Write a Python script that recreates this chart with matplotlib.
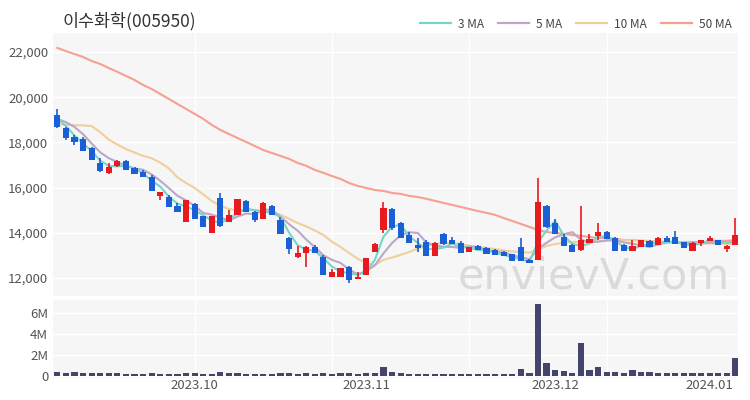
import matplotlib
matplotlib.use("Agg")
import matplotlib.pyplot as plt
import numpy as np
import pandas as pd
from matplotlib.lines import Line2D
from matplotlib.ticker import FuncFormatter

plt.rcParams['font.family'] = ['Noto Sans CJK KR', 'DejaVu Sans']

title = "이수화학(005950)"

dates = (
    ["2023-09-%02d" % d for d in [6, 7, 8, 11, 12, 13, 14, 15, 18, 19, 20, 21, 22, 25, 26, 27]]
    + ["2023-10-%02d" % d for d in [4, 5, 6, 10, 11, 12, 13, 16, 17, 18, 19, 20, 23, 24, 25, 26, 27, 30, 31]]
    + ["2023-11-%02d" % d for d in [1, 2, 3, 6, 7, 8, 9, 10, 13, 14, 15, 16, 17, 20, 21, 22, 23, 24, 27, 28, 29, 30]]
    + ["2023-12-%02d" % d for d in [1, 4, 5, 6, 7, 8, 11, 12, 13, 14, 15, 18, 19, 20, 21, 22, 26, 27, 28]]
    + ["2024-01-%02d" % d for d in [2, 3, 4, 5]]
)

opens = [19210, 18640, 18240, 18150, 17750, 17090, 16650, 16960, 17180, 16870,
         16690, 16470, 15630, 15580, 15190, 14480, 15270, 14740, 13990, 15540,
         14480, 14790, 15410, 14920, 14610, 15190, 14570, 13770, 12930, 13110,
         13370, 12930, 12040, 12040, 12490, 11960, 12130, 13150, 14120, 15050,
         14430, 13900, 13460, 13590, 12970, 13950, 13680, 13550, 13150, 13420,
         13330, 13240, 13150, 13060, 13370, 12800, 12800, 15190, 14430, 13810,
         13460, 13240, 13550, 13860, 14040, 13770, 13460, 13190, 13370, 13640,
         13460, 13770, 13810, 13590, 13190, 13550, 13640, 13680, 13280, 13460]
highs = [19480, 18700, 18330, 18240, 17800, 17310, 17090, 17200, 17200, 16900,
         16780, 16560, 15800, 15660, 15310, 15450, 15300, 14760, 14740, 15760,
         15000, 15500, 15430, 14950, 15360, 15230, 14700, 13800, 13420, 13400,
         13460, 13020, 12400, 12460, 12510, 12260, 12900, 13550, 15360, 15080,
         14470, 14050, 13770, 13680, 13570, 13970, 13820, 13640, 13370, 13440,
         13350, 13260, 13170, 13080, 13770, 12820, 16420, 15210, 14600, 13950,
         13480, 15190, 13950, 14430, 14060, 13790, 13480, 13700, 13590, 13660,
         13790, 13860, 14080, 13610, 13570, 13700, 13860, 13700, 13440, 14650]
lows = [18650, 18100, 17880, 17600, 17200, 16700, 16620, 16900, 16760, 16580,
        16450, 15830, 15450, 15120, 14900, 14460, 14590, 14240, 13970, 14250,
        14460, 14770, 14900, 14480, 14590, 14770, 13930, 13060, 12900, 12490,
        13090, 12110, 12020, 12020, 11780, 11940, 12110, 13130, 13990, 14120,
        13750, 13530, 13150, 12950, 12950, 13450, 13480, 13090, 13130, 13220,
        13040, 13000, 12950, 12730, 12730, 12640, 12780, 14210, 13930, 13400,
        13130, 13200, 13530, 13680, 13710, 13170, 13170, 13170, 13350, 13350,
        13440, 13570, 13480, 13310, 13170, 13420, 13620, 13440, 13130, 13440]
closes = [18680, 18200, 18020, 17620, 17220, 16730, 16910, 17180, 16780, 16600,
          16470, 15850, 15800, 15140, 14920, 15450, 14610, 14260, 14740, 14300,
          14790, 15500, 14920, 14570, 15320, 14790, 13950, 13280, 13110, 13370,
          13110, 12130, 12270, 12440, 11910, 12040, 12880, 13500, 15100, 14200,
          13770, 13550, 13330, 12970, 13550, 13500, 13500, 13110, 13370, 13240,
          13060, 13020, 12970, 12750, 12750, 12660, 15360, 14260, 13950, 13420,
          13150, 13680, 13730, 14040, 13730, 13190, 13190, 13420, 13680, 13370,
          13770, 13590, 13500, 13330, 13550, 13680, 13770, 13460, 13420, 13900]
volumes_m = [0.30, 0.25, 0.32, 0.25, 0.25, 0.25, 0.25, 0.20, 0.18, 0.18,
             0.15, 0.20, 0.15, 0.15, 0.18, 0.20, 0.20, 0.15, 0.18, 0.35,
             0.25, 0.22, 0.15, 0.15, 0.18, 0.15, 0.20, 0.20, 0.15, 0.20,
             0.15, 0.20, 0.15, 0.22, 0.22, 0.15, 0.25, 0.20, 0.85, 0.30,
             0.20, 0.15, 0.15, 0.18, 0.15, 0.15, 0.15, 0.18, 0.15, 0.15,
             0.15, 0.15, 0.15, 0.18, 0.58, 0.20, 6.88, 1.23, 0.53, 0.40,
             0.27, 3.10, 0.50, 0.85, 0.35, 0.35, 0.25, 0.50, 0.30, 0.30,
             0.25, 0.25, 0.25, 0.20, 0.20, 0.20, 0.20, 0.20, 0.20, 1.65]

# closes before the visible window (used only for the short moving averages)
prior_closes = [18900, 19100, 19200, 19300]

ma10 = [18800, 18780, 18760, 18750, 18720, 18450, 18120, 17900, 17700, 17550,
        17400, 17300, 17100, 16850, 16450, 16200, 15980, 15700, 15400, 15200,
        15050, 15000, 15000, 15000, 14950, 14880, 14790, 14620, 14430, 14280,
        14100, 13900, 13600, 13370, 13100, 12850, 12650, 12570, 12800, 12900,
        13020, 13150, 13300, 13420, 13500, 13550, 13550, 13500, 13420, 13380,
        13330, 13280, 13220, 13170, 13150, 13120, 13250, 13420, 13500, 13560,
        13590, 13600, 13600, 13620, 13640, 13660, 13670, 13670, 13650, 13620,
        13600, 13600, 13580, 13560, 13550, 13530, 13520, 13510, 13500, 13500]
ma50 = [22180, 22040, 21910, 21780, 21600, 21470, 21290, 21120, 20940, 20760,
        20540, 20360, 20140, 19920, 19700, 19480, 19260, 19040, 18770, 18550,
        18370, 18190, 18020, 17840, 17660, 17530, 17400, 17270, 17090, 16960,
        16780, 16650, 16510, 16380, 16200, 16070, 15980, 15890, 15850, 15760,
        15720, 15630, 15580, 15500, 15410, 15320, 15230, 15140, 15050, 14960,
        14880, 14790, 14650, 14520, 14390, 14260, 14120, 14030, 13990, 13950,
        13900, 13860, 13810, 13770, 13770, 13730, 13680, 13680, 13640, 13640,
        13590, 13590, 13590, 13590, 13590, 13590, 13590, 13640, 13640, 13680]

tick_labels = ["2023.10", "2023.11", "2023.12", "2024.01"]
tick_dates = ["2023-10-04", "2023-11-02", "2023-12-04", "2024-01-02"]

# ---- derived ----
n = len(dates)
x = np.arange(n)
o = np.array(opens, float)
h = np.array(highs, float)
l = np.array(lows, float)
c = np.array(closes, float)
ext = pd.Series(prior_closes + closes, dtype=float)
ma3 = ext.rolling(3).mean().values[len(prior_closes):]
ma5 = ext.rolling(5).mean().values[len(prior_closes):]

RED = "#e8191f"
BLUE = "#1a5fd6"
up = c >= o
col = np.where(up, RED, BLUE)

fig = plt.figure(figsize=(7.5, 4.0), dpi=100)
ax = fig.add_axes([53 / 750, 1 - 296 / 400, (738 - 53) / 750, (296 - 33) / 400])
axv = fig.add_axes([53 / 750, 1 - 378 / 400, (738 - 53) / 750, (378 - 300) / 400])

bg = "#f6f6f6"
for a in (ax, axv):
    a.set_facecolor(bg)
    for s in a.spines.values():
        s.set_visible(False)
    a.tick_params(length=0, colors="#555555", labelsize=9.5)
    a.set_xlim(-0.5, n - 0.7)
    for gx in range(16, n, 16):
        a.axvline(gx, color="white", lw=1.0, zorder=0)

# price axis
yt = [12000, 14000, 16000, 18000, 20000, 22000]
ax.set_yticks(yt)
ax.yaxis.set_major_formatter(FuncFormatter(lambda v, p: f"{int(v):,}"))
ax.set_ylim(11200, 22840)
for v in yt:
    ax.axhline(v, color="white", lw=1.0, zorder=0)
ax.set_xticks([])

# watermark
ax.text(0.988, 0.03, "envievV.com", transform=ax.transAxes, ha="right", va="baseline",
        fontsize=31, color="#d4d4d4", alpha=0.8, zorder=1, family=["DejaVu Sans"])

# moving averages
ax.plot(x, ma50, color="#f5a091", lw=1.5, zorder=2)
ax.plot(x, ma10, color="#f1cf9c", lw=1.5, zorder=2)
ax.plot(x, ma5, color="#b9a8cc", lw=1.5, zorder=2)
ax.plot(x, ma3, color="#74d6c9", lw=1.5, zorder=2)

# candles
ax.vlines(x, l, h, colors=col, lw=1.2, zorder=3)
body = np.maximum(np.abs(c - o), 40)
ax.bar(x, body, bottom=np.minimum(o, c), width=0.72, color=col, zorder=4, linewidth=0)

# volume
vol = np.array(volumes_m) * 1e6
axv.bar(x, vol, width=0.72, color="#45446a", zorder=3, linewidth=0)
vt = [0, 2e6, 4e6, 6e6]
axv.set_yticks(vt)
axv.set_yticklabels(["0", "2M", "4M", "6M"])
axv.set_ylim(-0.24e6, 7.26e6)
for v in vt:
    axv.axhline(v, color="white", lw=1.0, zorder=0)
pos = [dates.index(d) for d in tick_dates]
axv.set_xticks(pos)
axv.set_xticklabels(tick_labels)
axv.tick_params(axis="x", pad=1)

fig.text(63 / 750, 1 - 21 / 400, title, fontsize=12.5, color="#333333", va="center", ha="left")

handles = [Line2D([], [], color=cc, lw=1.6) for cc in ["#74d6c9", "#b9a8cc", "#f1cf9c", "#f5a091"]]
fig.legend(handles, ["3 MA", "5 MA", "10 MA", "50 MA"], loc="center right",
           bbox_to_anchor=(742 / 750, 1 - 24 / 400), ncol=4, frameon=False,
           fontsize=8.5, handlelength=2.6, columnspacing=1.2, handletextpad=0.6,
           labelcolor="#444444")

fig.savefig("out.png", dpi=100, facecolor="white")
